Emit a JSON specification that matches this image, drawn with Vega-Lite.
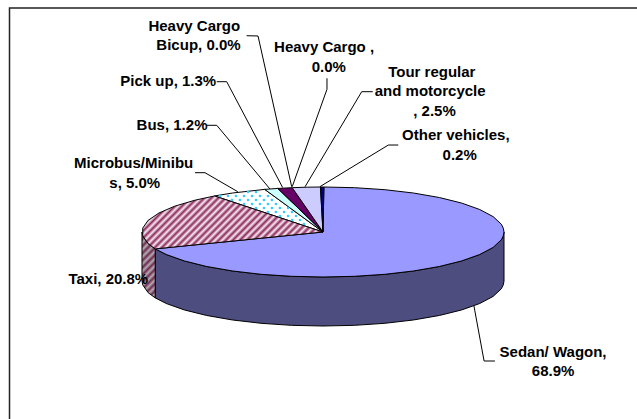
{
"$schema":"https://vega.github.io/schema/vega-lite/v6.json",
"width":637,"height":419,"padding":0,"autosize":"none","background":"white",
"config":{"view":{"stroke":null}},
"datasets":{
"outline":[
{"slice":"Sedan/ Wagon","part":"wall","i":0,"u":1,"v":0},{"slice":"Sedan/ Wagon","part":"wall","i":1,"u":0.996,"v":-0.087},{"slice":"Sedan/ Wagon","part":"wall","i":2,"u":0.985,"v":-0.174},{"slice":"Sedan/ Wagon","part":"wall","i":3,"u":0.94,"v":-0.342},{"slice":"Sedan/ Wagon","part":"wall","i":4,"u":0.866,"v":-0.5},{"slice":"Sedan/ Wagon","part":"wall","i":5,"u":0.766,"v":-0.643},{"slice":"Sedan/ Wagon","part":"wall","i":6,"u":0.643,"v":-0.766},{"slice":"Sedan/ Wagon","part":"wall","i":7,"u":0.5,"v":-0.866},{"slice":"Sedan/ Wagon","part":"wall","i":8,"u":0.342,"v":-0.94},{"slice":"Sedan/ Wagon","part":"wall","i":9,"u":0.174,"v":-0.985},{"slice":"Sedan/ Wagon","part":"wall","i":10,"u":0,"v":-1},{"slice":"Sedan/ Wagon","part":"wall","i":11,"u":-0.174,"v":-0.985},{"slice":"Sedan/ Wagon","part":"wall","i":12,"u":-0.342,"v":-0.94},{"slice":"Sedan/ Wagon","part":"wall","i":13,"u":-0.5,"v":-0.866},{"slice":"Sedan/ Wagon","part":"wall","i":14,"u":-0.643,"v":-0.766},{"slice":"Sedan/ Wagon","part":"wall","i":15,"u":-0.766,"v":-0.643},{"slice":"Sedan/ Wagon","part":"wall","i":16,"u":-0.866,"v":-0.5},{"slice":"Sedan/ Wagon","part":"wall","i":17,"u":-0.927,"v":-0.375},
{"slice":"Sedan/ Wagon","part":"wall","i":18,"u":-0.927,"v":-1.464},{"slice":"Sedan/ Wagon","part":"wall","i":19,"u":-0.866,"v":-1.589},{"slice":"Sedan/ Wagon","part":"wall","i":20,"u":-0.766,"v":-1.732},{"slice":"Sedan/ Wagon","part":"wall","i":21,"u":-0.643,"v":-1.855},{"slice":"Sedan/ Wagon","part":"wall","i":22,"u":-0.5,"v":-1.955},{"slice":"Sedan/ Wagon","part":"wall","i":23,"u":-0.342,"v":-2.029},{"slice":"Sedan/ Wagon","part":"wall","i":24,"u":-0.174,"v":-2.074},{"slice":"Sedan/ Wagon","part":"wall","i":25,"u":0,"v":-2.089},{"slice":"Sedan/ Wagon","part":"wall","i":26,"u":0.174,"v":-2.074},{"slice":"Sedan/ Wagon","part":"wall","i":27,"u":0.342,"v":-2.029},{"slice":"Sedan/ Wagon","part":"wall","i":28,"u":0.5,"v":-1.955},{"slice":"Sedan/ Wagon","part":"wall","i":29,"u":0.643,"v":-1.855},{"slice":"Sedan/ Wagon","part":"wall","i":30,"u":0.766,"v":-1.732},{"slice":"Sedan/ Wagon","part":"wall","i":31,"u":0.866,"v":-1.589},{"slice":"Sedan/ Wagon","part":"wall","i":32,"u":0.94,"v":-1.431},{"slice":"Sedan/ Wagon","part":"wall","i":33,"u":0.985,"v":-1.263},{"slice":"Sedan/ Wagon","part":"wall","i":34,"u":0.996,"v":-1.176},{"slice":"Sedan/ Wagon","part":"wall","i":35,"u":1,"v":-1.089},{"slice":"Sedan/ Wagon","part":"wall","i":36,"u":1,"v":0},
{"slice":"Taxi","part":"wall","i":0,"u":-0.927,"v":-0.375},{"slice":"Taxi","part":"wall","i":1,"u":-0.966,"v":-0.259},{"slice":"Taxi","part":"wall","i":2,"u":-0.996,"v":-0.087},{"slice":"Taxi","part":"wall","i":3,"u":-1,"v":0},{"slice":"Taxi","part":"wall","i":4,"u":-1,"v":-1.089},{"slice":"Taxi","part":"wall","i":5,"u":-0.996,"v":-1.176},{"slice":"Taxi","part":"wall","i":6,"u":-0.966,"v":-1.348},{"slice":"Taxi","part":"wall","i":7,"u":-0.927,"v":-1.464},{"slice":"Taxi","part":"wall","i":8,"u":-0.927,"v":-0.375},
{"slice":"Sedan/ Wagon","part":"top","i":0,"u":0,"v":0},{"slice":"Sedan/ Wagon","part":"top","i":1,"u":0.005,"v":1},{"slice":"Sedan/ Wagon","part":"top","i":2,"u":0.174,"v":0.985},{"slice":"Sedan/ Wagon","part":"top","i":3,"u":0.342,"v":0.94},{"slice":"Sedan/ Wagon","part":"top","i":4,"u":0.5,"v":0.866},{"slice":"Sedan/ Wagon","part":"top","i":5,"u":0.643,"v":0.766},{"slice":"Sedan/ Wagon","part":"top","i":6,"u":0.766,"v":0.643},{"slice":"Sedan/ Wagon","part":"top","i":7,"u":0.866,"v":0.5},{"slice":"Sedan/ Wagon","part":"top","i":8,"u":0.94,"v":0.342},{"slice":"Sedan/ Wagon","part":"top","i":9,"u":0.985,"v":0.174},{"slice":"Sedan/ Wagon","part":"top","i":10,"u":0.996,"v":0.087},{"slice":"Sedan/ Wagon","part":"top","i":11,"u":1,"v":0},{"slice":"Sedan/ Wagon","part":"top","i":12,"u":0.996,"v":-0.087},{"slice":"Sedan/ Wagon","part":"top","i":13,"u":0.985,"v":-0.174},{"slice":"Sedan/ Wagon","part":"top","i":14,"u":0.94,"v":-0.342},{"slice":"Sedan/ Wagon","part":"top","i":15,"u":0.866,"v":-0.5},{"slice":"Sedan/ Wagon","part":"top","i":16,"u":0.766,"v":-0.643},{"slice":"Sedan/ Wagon","part":"top","i":17,"u":0.643,"v":-0.766},{"slice":"Sedan/ Wagon","part":"top","i":18,"u":0.5,"v":-0.866},{"slice":"Sedan/ Wagon","part":"top","i":19,"u":0.342,"v":-0.94},{"slice":"Sedan/ Wagon","part":"top","i":20,"u":0.174,"v":-0.985},{"slice":"Sedan/ Wagon","part":"top","i":21,"u":0,"v":-1},{"slice":"Sedan/ Wagon","part":"top","i":22,"u":-0.174,"v":-0.985},{"slice":"Sedan/ Wagon","part":"top","i":23,"u":-0.342,"v":-0.94},{"slice":"Sedan/ Wagon","part":"top","i":24,"u":-0.5,"v":-0.866},{"slice":"Sedan/ Wagon","part":"top","i":25,"u":-0.643,"v":-0.766},{"slice":"Sedan/ Wagon","part":"top","i":26,"u":-0.766,"v":-0.643},{"slice":"Sedan/ Wagon","part":"top","i":27,"u":-0.866,"v":-0.5},{"slice":"Sedan/ Wagon","part":"top","i":28,"u":-0.927,"v":-0.375},{"slice":"Sedan/ Wagon","part":"top","i":29,"u":0,"v":0},
{"slice":"Taxi","part":"top","i":0,"u":0,"v":0},{"slice":"Taxi","part":"top","i":1,"u":-0.927,"v":-0.375},{"slice":"Taxi","part":"top","i":2,"u":-0.966,"v":-0.259},{"slice":"Taxi","part":"top","i":3,"u":-0.996,"v":-0.087},{"slice":"Taxi","part":"top","i":4,"u":-0.996,"v":0.087},{"slice":"Taxi","part":"top","i":5,"u":-0.966,"v":0.259},{"slice":"Taxi","part":"top","i":6,"u":-0.906,"v":0.423},{"slice":"Taxi","part":"top","i":7,"u":-0.819,"v":0.574},{"slice":"Taxi","part":"top","i":8,"u":-0.707,"v":0.707},{"slice":"Taxi","part":"top","i":9,"u":-0.599,"v":0.801},{"slice":"Taxi","part":"top","i":10,"u":0,"v":0},
{"slice":"Microbus/Minibus","part":"top","i":0,"u":0,"v":0},{"slice":"Microbus/Minibus","part":"top","i":1,"u":-0.599,"v":0.801},{"slice":"Microbus/Minibus","part":"top","i":2,"u":-0.5,"v":0.866},{"slice":"Microbus/Minibus","part":"top","i":3,"u":-0.322,"v":0.947},{"slice":"Microbus/Minibus","part":"top","i":4,"u":0,"v":0},
{"slice":"Bus","part":"top","i":0,"u":0,"v":0},{"slice":"Bus","part":"top","i":1,"u":-0.322,"v":0.947},{"slice":"Bus","part":"top","i":2,"u":-0.25,"v":0.968},{"slice":"Bus","part":"top","i":3,"u":0,"v":0},
{"slice":"Pick up","part":"top","i":0,"u":0,"v":0},{"slice":"Pick up","part":"top","i":1,"u":-0.25,"v":0.968},{"slice":"Pick up","part":"top","i":2,"u":-0.17,"v":0.985},{"slice":"Pick up","part":"top","i":3,"u":0,"v":0},
{"slice":"Tour regular and motorcycle","part":"top","i":0,"u":0,"v":0},{"slice":"Tour regular and motorcycle","part":"top","i":1,"u":-0.17,"v":0.985},{"slice":"Tour regular and motorcycle","part":"top","i":2,"u":-0.087,"v":0.996},{"slice":"Tour regular and motorcycle","part":"top","i":3,"u":-0.014,"v":1},{"slice":"Tour regular and motorcycle","part":"top","i":4,"u":0,"v":0},
{"slice":"Other vehicles","part":"top","i":0,"u":0,"v":0},{"slice":"Other vehicles","part":"top","i":1,"u":-0.014,"v":1},{"slice":"Other vehicles","part":"top","i":2,"u":0.005,"v":1},{"slice":"Other vehicles","part":"top","i":3,"u":0,"v":0}
],
"dots":[
{"u":-0.414,"v":0.889},{"u":-0.37,"v":0.889},
{"u":-0.569,"v":0.8},{"u":-0.525,"v":0.8},{"u":-0.481,"v":0.8},{"u":-0.436,"v":0.8},{"u":-0.392,"v":0.8},{"u":-0.348,"v":0.8},{"u":-0.304,"v":0.8},
{"u":-0.503,"v":0.711},{"u":-0.459,"v":0.711},{"u":-0.414,"v":0.711},{"u":-0.37,"v":0.711},{"u":-0.326,"v":0.711},{"u":-0.282,"v":0.711},
{"u":-0.436,"v":0.622},{"u":-0.392,"v":0.622},{"u":-0.348,"v":0.622},{"u":-0.304,"v":0.622},{"u":-0.26,"v":0.622},
{"u":-0.37,"v":0.533},{"u":-0.326,"v":0.533},{"u":-0.282,"v":0.533},{"u":-0.238,"v":0.533},{"u":-0.193,"v":0.533},
{"u":-0.304,"v":0.444},{"u":-0.26,"v":0.444},{"u":-0.215,"v":0.444},{"u":-0.171,"v":0.444},
{"u":-0.238,"v":0.356},{"u":-0.193,"v":0.356},{"u":-0.149,"v":0.356},
{"u":-0.171,"v":0.267},{"u":-0.127,"v":0.267},
{"u":-0.105,"v":0.178}
],
"leaders":[
{"slice":"Heavy Cargo Bicup","i":0,"u":-0.422,"v":4.362},{"slice":"Heavy Cargo Bicup","i":1,"u":-0.359,"v":4.356},{"slice":"Heavy Cargo Bicup","i":2,"u":-0.173,"v":1.007},
{"slice":"Heavy Cargo","i":0,"u":0.022,"v":3.416},{"slice":"Heavy Cargo","i":1,"u":0.022,"v":3.171},{"slice":"Heavy Cargo","i":2,"u":-0.17,"v":1.007},
{"slice":"Pick up","i":0,"u":-0.587,"v":3.34},{"slice":"Pick up","i":1,"u":-0.532,"v":3.34},{"slice":"Pick up","i":2,"u":-0.223,"v":0.989},
{"slice":"Bus","i":0,"u":-0.643,"v":2.371},{"slice":"Bus","i":1,"u":-0.587,"v":2.371},{"slice":"Bus","i":2,"u":-0.293,"v":0.956},
{"slice":"Microbus/Minibus","i":0,"u":-0.707,"v":1.318},{"slice":"Microbus/Minibus","i":1,"u":-0.652,"v":1.318},{"slice":"Microbus/Minibus","i":2,"u":-0.471,"v":0.896},
{"slice":"Tour regular and motorcycle","i":0,"u":0.275,"v":3.118},{"slice":"Tour regular and motorcycle","i":1,"u":0.214,"v":3.118},{"slice":"Tour regular and motorcycle","i":2,"u":-0.099,"v":1.007},
{"slice":"Other vehicles","i":0,"u":0.416,"v":1.933},{"slice":"Other vehicles","i":1,"u":0.361,"v":1.933},{"slice":"Other vehicles","i":2,"u":-0.017,"v":1.007},
{"slice":"Sedan/ Wagon","i":0,"u":0.834,"v":-1.644},{"slice":"Sedan/ Wagon","i":1,"u":0.89,"v":-2.867},{"slice":"Sedan/ Wagon","i":2,"u":0.95,"v":-2.867}
],
"frame":[
{"i":0,"u":-1.732,"v":-4.156},{"i":1,"u":-1.732,"v":4.978},{"i":2,"u":1.735,"v":4.978}
],
"labels":[
{"slice":"Heavy Cargo Bicup","share":0.0,"line":"Heavy Cargo","u":-0.711,"v":4.578},
{"slice":"Heavy Cargo Bicup","share":0.0,"line":"Bicup, 0.0%","u":-0.688,"v":4.156},
{"slice":"Heavy Cargo","share":0.0,"line":"Heavy Cargo ,","u":0.006,"v":4.111},
{"slice":"Heavy Cargo","share":0.0,"line":"0.0%","u":0.032,"v":3.673},
{"slice":"Pick up","share":1.3,"line":"Pick up, 1.3%","u":-0.855,"v":3.356},
{"slice":"Bus","share":1.2,"line":"Bus, 1.2%","u":-0.834,"v":2.378},
{"slice":"Microbus/Minibus","share":5.0,"line":"Microbus/Minibu","u":-1.046,"v":1.527},
{"slice":"Microbus/Minibus","share":5.0,"line":"s, 5.0%","u":-1.04,"v":1.096},
{"slice":"Tour regular and motorcycle","share":2.5,"line":"Tour regular","u":0.601,"v":3.549},
{"slice":"Tour regular and motorcycle","share":2.5,"line":"and motorcycle","u":0.592,"v":3.127},
{"slice":"Tour regular and motorcycle","share":2.5,"line":", 2.5%","u":0.616,"v":2.696},
{"slice":"Other vehicles","share":0.2,"line":"Other vehicles,","u":0.734,"v":2.156},
{"slice":"Other vehicles","share":0.2,"line":"0.2%","u":0.755,"v":1.718},
{"slice":"Taxi","share":20.8,"line":"Taxi, 20.8%","u":-1.186,"v":-1.044},
{"slice":"Sedan/ Wagon","share":68.9,"line":"Sedan/ Wagon,","u":1.271,"v":-2.667},
{"slice":"Sedan/ Wagon","share":68.9,"line":"68.9%","u":1.271,"v":-3.089}
]
},
"data":{"name":"outline"},
"encoding":{
"x":{"field":"u","type":"quantitative","axis":null,"scale":{"domain":[-1.7845,1.7348],"nice":false,"zero":false}},
"y":{"field":"v","type":"quantitative","axis":null,"scale":{"domain":[-4.1556,5.1556],"nice":false,"zero":false}}
},
"layer":[
{"transform":[{"filter":"datum.part==='wall' && datum.slice==='Sedan/ Wagon'"}],
 "mark":{"type":"line","fill":"#4D4D80","stroke":"#000","strokeWidth":1,"strokeJoin":"round"},
 "encoding":{"order":{"field":"i","type":"quantitative"}}},
{"transform":[{"filter":"datum.part==='wall' && datum.slice==='Taxi'"}],
 "mark":{"type":"line","stroke":"#000","strokeWidth":1,"strokeJoin":"round",
  "fill":{"gradient":"linear","x1":0,"y1":0,"x2":0.231,"y2":1.154,"stops":[{"offset":0,"color":"#6e2a50"},{"offset":0.0455,"color":"#b5adb2"},{"offset":0.0909,"color":"#6e2a50"},{"offset":0.1364,"color":"#b5adb2"},{"offset":0.1818,"color":"#6e2a50"},{"offset":0.2273,"color":"#b5adb2"},{"offset":0.2727,"color":"#6e2a50"},{"offset":0.3182,"color":"#b5adb2"},{"offset":0.3636,"color":"#6e2a50"},{"offset":0.4091,"color":"#b5adb2"},{"offset":0.4545,"color":"#6e2a50"},{"offset":0.5,"color":"#b5adb2"},{"offset":0.5455,"color":"#6e2a50"},{"offset":0.5909,"color":"#b5adb2"},{"offset":0.6364,"color":"#6e2a50"},{"offset":0.6818,"color":"#b5adb2"},{"offset":0.7273,"color":"#6e2a50"},{"offset":0.7727,"color":"#b5adb2"},{"offset":0.8182,"color":"#6e2a50"},{"offset":0.8636,"color":"#b5adb2"},{"offset":0.9091,"color":"#6e2a50"},{"offset":0.9545,"color":"#b5adb2"},{"offset":1,"color":"#6e2a50"}]}},
 "encoding":{"order":{"field":"i","type":"quantitative"}}},
{"transform":[{"filter":"datum.part==='top' && datum.slice!=='Taxi'"}],
 "mark":{"type":"line","stroke":"#000","strokeWidth":1,"strokeJoin":"round"},
 "encoding":{"order":{"field":"i","type":"quantitative"},
  "fill":{"field":"slice","type":"nominal","legend":null,"scale":{"domain":["Sedan/ Wagon","Microbus/Minibus","Bus","Pick up","Tour regular and motorcycle","Other vehicles"],"range":["#9999FF","#FFFFFF","#CCFFFF","#660066","#CCCCFF","#000080"]}}}},
{"transform":[{"filter":"datum.part==='top' && datum.slice==='Taxi'"}],
 "mark":{"type":"line","stroke":"#000","strokeWidth":1,"strokeJoin":"round",
  "fill":{"gradient":"linear","x1":0,"y1":0,"x2":1.191,"y2":0.349,"stops":[{"offset":0,"color":"#8f2a5e"},{"offset":0.0152,"color":"#f7ecf2"},{"offset":0.0303,"color":"#8f2a5e"},{"offset":0.0455,"color":"#f7ecf2"},{"offset":0.0606,"color":"#8f2a5e"},{"offset":0.0758,"color":"#f7ecf2"},{"offset":0.0909,"color":"#8f2a5e"},{"offset":0.1061,"color":"#f7ecf2"},{"offset":0.1212,"color":"#8f2a5e"},{"offset":0.1364,"color":"#f7ecf2"},{"offset":0.1515,"color":"#8f2a5e"},{"offset":0.1667,"color":"#f7ecf2"},{"offset":0.1818,"color":"#8f2a5e"},{"offset":0.197,"color":"#f7ecf2"},{"offset":0.2121,"color":"#8f2a5e"},{"offset":0.2273,"color":"#f7ecf2"},{"offset":0.2424,"color":"#8f2a5e"},{"offset":0.2576,"color":"#f7ecf2"},{"offset":0.2727,"color":"#8f2a5e"},{"offset":0.2879,"color":"#f7ecf2"},{"offset":0.303,"color":"#8f2a5e"},{"offset":0.3182,"color":"#f7ecf2"},{"offset":0.3333,"color":"#8f2a5e"},{"offset":0.3485,"color":"#f7ecf2"},{"offset":0.3636,"color":"#8f2a5e"},{"offset":0.3788,"color":"#f7ecf2"},{"offset":0.3939,"color":"#8f2a5e"},{"offset":0.4091,"color":"#f7ecf2"},{"offset":0.4242,"color":"#8f2a5e"},{"offset":0.4394,"color":"#f7ecf2"},{"offset":0.4545,"color":"#8f2a5e"},{"offset":0.4697,"color":"#f7ecf2"},{"offset":0.4848,"color":"#8f2a5e"},{"offset":0.5,"color":"#f7ecf2"},{"offset":0.5152,"color":"#8f2a5e"},{"offset":0.5303,"color":"#f7ecf2"},{"offset":0.5455,"color":"#8f2a5e"},{"offset":0.5606,"color":"#f7ecf2"},{"offset":0.5758,"color":"#8f2a5e"},{"offset":0.5909,"color":"#f7ecf2"},{"offset":0.6061,"color":"#8f2a5e"},{"offset":0.6212,"color":"#f7ecf2"},{"offset":0.6364,"color":"#8f2a5e"},{"offset":0.6515,"color":"#f7ecf2"},{"offset":0.6667,"color":"#8f2a5e"},{"offset":0.6818,"color":"#f7ecf2"},{"offset":0.697,"color":"#8f2a5e"},{"offset":0.7121,"color":"#f7ecf2"},{"offset":0.7273,"color":"#8f2a5e"},{"offset":0.7424,"color":"#f7ecf2"},{"offset":0.7576,"color":"#8f2a5e"},{"offset":0.7727,"color":"#f7ecf2"},{"offset":0.7879,"color":"#8f2a5e"},{"offset":0.803,"color":"#f7ecf2"},{"offset":0.8182,"color":"#8f2a5e"},{"offset":0.8333,"color":"#f7ecf2"},{"offset":0.8485,"color":"#8f2a5e"},{"offset":0.8636,"color":"#f7ecf2"},{"offset":0.8788,"color":"#8f2a5e"},{"offset":0.8939,"color":"#f7ecf2"},{"offset":0.9091,"color":"#8f2a5e"},{"offset":0.9242,"color":"#f7ecf2"},{"offset":0.9394,"color":"#8f2a5e"},{"offset":0.9545,"color":"#f7ecf2"},{"offset":0.9697,"color":"#8f2a5e"},{"offset":0.9848,"color":"#f7ecf2"},{"offset":1,"color":"#8f2a5e"}]}},
 "encoding":{"order":{"field":"i","type":"quantitative"}}},
{"data":{"name":"dots"},"mark":{"type":"circle","color":"#33CCFF","size":7,"opacity":1}},
{"data":{"name":"leaders"},
 "mark":{"type":"line","stroke":"#000","strokeWidth":1},
 "encoding":{"detail":{"field":"slice"},"order":{"field":"i","type":"quantitative"}}},
{"data":{"name":"frame"},
 "mark":{"type":"line","stroke":"#222","strokeWidth":1.5},
 "encoding":{"order":{"field":"i","type":"quantitative"}}},
{"data":{"name":"labels"},
 "mark":{"type":"text","font":"Liberation Sans","fontWeight":"bold","fontSize":15,"fill":"#000","align":"center","baseline":"middle"},
 "encoding":{"text":{"field":"line","type":"nominal"}}}
]
}
